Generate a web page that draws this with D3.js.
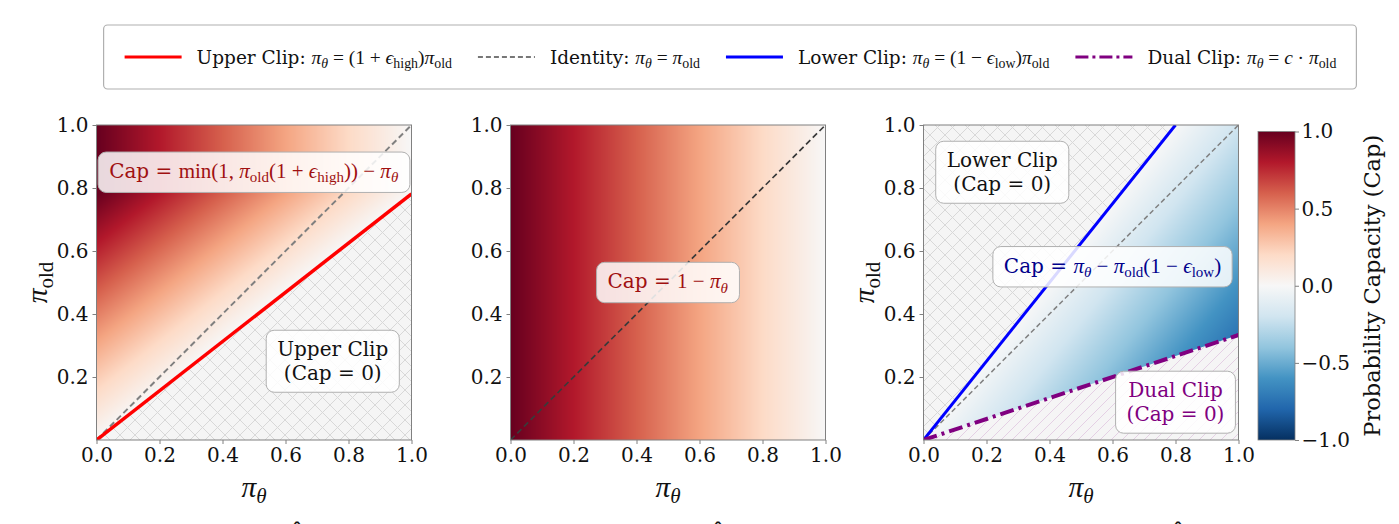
<!DOCTYPE html>
<html><head><meta charset="utf-8">
<script src="https://cdn.jsdelivr.net/npm/d3@7"></script>
<style>body{margin:0;background:#fff;} svg{display:block;}</style>
</head><body>
<svg id="chart" width="1399" height="524"></svg>
<script>
// ---------------- data ----------------
const epsHigh = 0.28;      // upper clip epsilon
const epsLow = 0.2;        // lower clip epsilon
const dualC = 3;           // dual clip constant
const xTickValues = [0, 0.2, 0.4, 0.6, 0.8, 1.0];
const yTickValues = [0.2, 0.4, 0.6, 0.8, 1.0];
const cbarTickValues = [-1, -0.5, 0, 0.5, 1];
const cbarLabel = "Probability Capacity (Cap)";
// RdBu_r colormap stops, from -1 to +1
const rdbuColors = ["#053061","#2166ac","#4393c3","#92c5de","#d1e5f0","#f7f7f7","#fddbc7","#f4a582","#d6604d","#b2182b","#67001f"];
const legendLabels = [
  [["Upper Clip: ","r"],["π","i"],["θ","si"],[" = (1 + ","m"],["ϵ","i"],["high","s"],[")","m"],["π","i"],["old","s"]],
  [["Identity: ","r"],["π","i"],["θ","si"],[" = ","m"],["π","i"],["old","s"]],
  [["Lower Clip: ","r"],["π","i"],["θ","si"],[" = (1 − ","m"],["ϵ","i"],["low","s"],[")","m"],["π","i"],["old","s"]],
  [["Dual Clip: ","r"],["π","i"],["θ","si"],[" = ","m"],["c","i"],[" · ","m"],["π","i"],["old","s"]]
];
const legendColors = ["#ff0000", "#777777", "#0000ff", "#800080"];
const legendDashes = [null, "5,3", null, "13,4,3,4"];

// ---------------- layout ----------------
const W = 1399, H = 524;
const panelLeft = [96.5, 510.5, 923.5];
const panelTop = 125, panelSize = 315;
const FONT = "'DejaVu Serif', serif";
const MATH = "'Liberation Serif', 'DejaVu Serif', serif";

const svg = d3.select("#chart");
const defs = svg.append("defs");

const colorScale = d3.scaleLinear()
  .domain(d3.range(rdbuColors.length).map(i => -1 + 2 * i / (rdbuColors.length - 1)))
  .range(rdbuColors).interpolate(d3.interpolateRgb).clamp(true);

// hatch patterns
const px = defs.append("pattern").attr("id", "hatchX").attr("patternUnits", "userSpaceOnUse")
  .attr("width", 15).attr("height", 15);
px.append("rect").attr("width", 15).attr("height", 15).attr("fill", "#f5f5f5");
px.append("path").attr("d", "M0,0L15,15M15,0L0,15").attr("stroke", "#d8d8d8").attr("stroke-width", 1);

const ps = defs.append("pattern").attr("id", "hatchSlash").attr("patternUnits", "userSpaceOnUse")
  .attr("width", 11).attr("height", 11);
ps.append("rect").attr("width", 11).attr("height", 11).attr("fill", "#f5f5f5");
ps.append("path").attr("d", "M0,11L11,0M-2,2L2,-2M9,13L13,9").attr("stroke", "rgba(160,60,160,0.2)").attr("stroke-width", 1);

// rich text helper (serif text + math segments with subscripts)
function rich(textSel, segs, fs, color) {
  let cur = 0;
  segs.forEach(([t, s]) => {
    const sub = s.startsWith("s");
    const target = sub ? fs * 0.22 : 0;
    const ts = textSel.append("tspan").text(t).attr("dy", target - cur);
    cur = target;
    if (s === "r") ts.attr("font-family", FONT).attr("font-size", fs);
    else if (s === "m") ts.attr("font-family", MATH).attr("font-size", fs * 1.05);
    else if (s === "i") ts.attr("font-family", MATH).attr("font-style", "italic").attr("font-size", fs * 1.05);
    else if (s === "s") ts.attr("font-family", MATH).attr("font-size", fs * 0.75);
    else if (s === "si") ts.attr("font-family", MATH).attr("font-style", "italic").attr("font-size", fs * 0.75);
    ts.attr("fill", color);
  });
  return textSel;
}

// ---------------- panels ----------------
const panels = [
  {
    heatPoly: [[0,0],[1,1/(1+epsHigh)],[1,1],[0,1]],
    value: (t, o) => Math.min(1, o * (1 + epsHigh)) - t,
    hatches: [{poly: [[0,0],[1,0],[1,1/(1+epsHigh)]], pat: "hatchX"}],
    lines: [
      {pts: [[0,0],[1,1]], color: "#808080", width: 2, dash: "6,3.5"},
      {pts: [[0,0],[1,1/(1+epsHigh)]], color: "#ff0000", width: 3.5, dash: null}
    ],
    notes: [
      {x: 0.5, y: 0.85, color: "#a01010", lines: [[["Cap = ","r"],["min(1, ","m"],["π","i"],["old","s"],["(1 + ","m"],["ϵ","i"],["high","s"],["))","m"],[" − ","m"],["π","i"],["θ","si"]]]},
      {x: 0.75, y: 0.25, color: "#111", lines: [[["Upper Clip","r"]], [["(Cap = 0)","r"]]]}
    ],
    ylabel: true
  },
  {
    heatPoly: [[0,0],[1,0],[1,1],[0,1]],
    value: (t, o) => 1 - t,
    hatches: [],
    lines: [{pts: [[0,0],[1,1]], color: "#3a3a3a", width: 1.7, dash: "6,3.5"}],
    notes: [
      {x: 0.5, y: 0.5, color: "#a01010", lines: [[["Cap = ","r"],["1 − ","m"],["π","i"],["θ","si"]]]}
    ],
    ylabel: false
  },
  {
    heatPoly: [[0,0],[1-epsLow,1],[1,1],[1,1/dualC]],
    value: (t, o) => -(t - (1 - epsLow) * o),
    hatches: [
      {poly: [[0,0],[1-epsLow,1],[0,1]], pat: "hatchX"},
      {poly: [[0,0],[1,1/dualC],[1,0]], pat: "hatchSlash"}
    ],
    lines: [
      {pts: [[0,0],[1,1]], color: "#808080", width: 1.5, dash: "5,3"},
      {pts: [[0,0],[1-epsLow,1]], color: "#0000ff", width: 3, dash: null},
      {pts: [[0,0],[1,1/dualC]], color: "#800080", width: 4, dash: "14,5,3,5"}
    ],
    notes: [
      {x: 0.25, y: 0.85, color: "#111", lines: [[["Lower Clip","r"]], [["(Cap = 0)","r"]]]},
      {x: 0.6, y: 0.55, color: "#00008b", lines: [[["Cap = ","r"],["π","i"],["θ","si"],[" − ","m"],["π","i"],["old","s"],["(1 − ","m"],["ϵ","i"],["low","s"],[")","m"]]]},
      {x: 0.8, y: 0.12, color: "#800080", lines: [[["Dual Clip","r"]], [["(Cap = 0)","r"]]]}
    ],
    ylabel: true
  }
];

panels.forEach((cfg, pi) => {
  const left = panelLeft[pi];
  const x = d3.scaleLinear().domain([0, 1]).range([left, left + panelSize]);
  const y = d3.scaleLinear().domain([0, 1]).range([panelTop + panelSize, panelTop]);
  const g = svg.append("g");
  const poly = pts => "M" + pts.map(p => x(p[0]) + "," + y(p[1])).join("L") + "Z";

  defs.append("clipPath").attr("id", "pclip" + pi).append("rect")
    .attr("x", left).attr("y", panelTop).attr("width", panelSize).attr("height", panelSize);
  defs.append("clipPath").attr("id", "hclip" + pi).append("path").attr("d", poly(cfg.heatPoly));

  // hatched regions
  cfg.hatches.forEach(h => g.append("path").attr("d", poly(h.poly)).attr("fill", `url(#${h.pat})`));

  // heatmap image
  const n = panelSize;
  const canvas = document.createElement("canvas");
  canvas.width = n; canvas.height = n;
  const ctx = canvas.getContext("2d");
  const img = ctx.createImageData(n, n);
  for (let j = 0; j < n; j++) {
    const o = y.invert(panelTop + j + 0.5);
    for (let i = 0; i < n; i++) {
      const t = x.invert(left + i + 0.5);
      const c = d3.rgb(colorScale(cfg.value(t, o)));
      const k = (j * n + i) * 4;
      img.data[k] = c.r; img.data[k+1] = c.g; img.data[k+2] = c.b; img.data[k+3] = 255;
    }
  }
  ctx.putImageData(img, 0, 0);
  g.append("image").attr("href", canvas.toDataURL())
    .attr("x", left).attr("y", panelTop).attr("width", panelSize).attr("height", panelSize)
    .attr("preserveAspectRatio", "none").attr("clip-path", `url(#hclip${pi})`);

  // lines
  const lineGen = d3.line().x(d => x(d[0])).y(d => y(d[1]));
  const lg = g.append("g").attr("clip-path", `url(#pclip${pi})`);
  cfg.lines.forEach(l => {
    lg.append("path").attr("d", lineGen(l.pts)).attr("fill", "none")
      .attr("stroke", l.color).attr("stroke-width", l.width)
      .attr("stroke-dasharray", l.dash);
  });

  // axes
  const xa = g.append("g").attr("transform", `translate(0,${panelTop + panelSize})`)
    .call(d3.axisBottom(x).tickValues(xTickValues).tickFormat(d3.format(".1f")).tickSize(4).tickPadding(3.5));
  const ya = g.append("g").attr("transform", `translate(${left},0)`)
    .call(d3.axisLeft(y).tickValues(yTickValues).tickFormat(d3.format(".1f")).tickSize(4).tickPadding(4));
  [xa, ya].forEach(a => {
    a.select(".domain").remove();
    a.selectAll(".tick line").attr("stroke", "#808080");
    a.selectAll(".tick text").attr("font-family", FONT).attr("font-size", 20).attr("fill", "#111");
  });

  // frame
  g.append("rect").attr("x", left).attr("y", panelTop).attr("width", panelSize).attr("height", panelSize)
    .attr("fill", "none").attr("stroke", "#808080").attr("stroke-width", 1);

  // axis labels
  rich(g.append("text").attr("x", left + panelSize / 2).attr("y", 497).attr("text-anchor", "middle"),
    [["π","i"],["θ","si"]], 28, "#111");
  if (cfg.ylabel) {
    rich(g.append("text").attr("transform", `translate(${left - 50},${panelTop + panelSize / 2}) rotate(-90)`)
      .attr("text-anchor", "middle"), [["π","i"],["old","s"]], 28, "#111");
  }

  // annotations
  cfg.notes.forEach(nt => {
    const ng = g.append("g");
    const rect = ng.append("rect");
    const txt = ng.append("text").attr("text-anchor", "middle");
    nt.lines.forEach((segs, li) => {
      const line = txt.append("tspan").attr("x", 0).attr("y", li * 24);
      rich(line, segs, 20, nt.color);
    });
    const bb = txt.node().getBBox();
    const padX = 11, padY = 7;
    rect.attr("x", bb.x - padX).attr("y", bb.y - padY)
      .attr("width", bb.width + 2 * padX).attr("height", bb.height + 2 * padY)
      .attr("rx", 8).attr("fill", "#ffffff").attr("fill-opacity", 0.85)
      .attr("stroke", "#b0b0b0").attr("stroke-width", 1);
    const cx = bb.x + bb.width / 2, cy = bb.y + bb.height / 2;
    ng.attr("transform", `translate(${x(nt.x) - cx},${y(nt.y) - cy})`);
  });
});

// ---------------- colorbar ----------------
const cbX = 1258, cbW = 37, cbTop = 131.5, cbBottom = 440;
const cy = d3.scaleLinear().domain([-1, 1]).range([cbBottom, cbTop]);
const grad = defs.append("linearGradient").attr("id", "cbgrad")
  .attr("x1", 0).attr("y1", 1).attr("x2", 0).attr("y2", 0);
grad.selectAll("stop").data(rdbuColors).join("stop")
  .attr("offset", (d, i) => i / (rdbuColors.length - 1)).attr("stop-color", d => d);
svg.append("rect").attr("x", cbX).attr("y", cbTop).attr("width", cbW).attr("height", cbBottom - cbTop)
  .attr("fill", "url(#cbgrad)").attr("stroke", "#808080").attr("stroke-width", 0.8);
const ca = svg.append("g").attr("transform", `translate(${cbX + cbW},0)`)
  .call(d3.axisRight(cy).tickValues(cbarTickValues).tickFormat(d3.format(".1f")).tickSize(4).tickPadding(2.5));
ca.select(".domain").remove();
ca.selectAll(".tick line").attr("stroke", "#808080");
ca.selectAll(".tick text").attr("font-family", FONT).attr("font-size", 20).attr("fill", "#111");
svg.append("text").attr("transform", `translate(1380,${(cbTop + cbBottom) / 2}) rotate(-90)`)
  .attr("text-anchor", "middle").attr("font-family", FONT).attr("font-size", 22.5).attr("fill", "#111")
  .text(cbarLabel);

// ---------------- legend ----------------
const legG = svg.append("g");
const legBox = legG.append("rect");
const itemsG = legG.append("g");
let cursor = 0;
const legendMidY = 57;
const legFs = 18.5;
legendLabels.forEach((segs, i) => {
  const ig = itemsG.append("g").attr("transform", `translate(${cursor},0)`);
  ig.append("line").attr("x1", 0).attr("x2", 57).attr("y1", legendMidY).attr("y2", legendMidY)
    .attr("stroke", legendColors[i]).attr("stroke-width", i === 1 ? 1.8 : 3)
    .attr("stroke-dasharray", legendDashes[i]);
  const t = rich(ig.append("text").attr("x", 72).attr("y", legendMidY + 6.5), segs, legFs, "#111");
  const w = t.node().getComputedTextLength();
  cursor += 72 + w + 26;
});
const contentW = cursor - 26;
const boxW = contentW + 41;
const boxX = (107 + 1353) / 2 - boxW / 2;
itemsG.attr("transform", `translate(${boxX + 21},0)`);
legBox.attr("x", boxX).attr("y", 25).attr("width", boxW).attr("height", 64)
  .attr("rx", 4).attr("fill", "#fff").attr("stroke", "#b0b0b0").attr("stroke-width", 1.2);

// ---------------- clipped hats of text below the figure ----------------
const hatX = [297, 718, 1178];
svg.selectAll(".hat").data(hatX).join("text").attr("class", "hat")
  .attr("x", d => d).attr("y", 538).attr("text-anchor", "middle")
  .attr("font-family", MATH).attr("font-size", 24).attr("fill", "#111").text("ˆ");
</script>
</body></html>
